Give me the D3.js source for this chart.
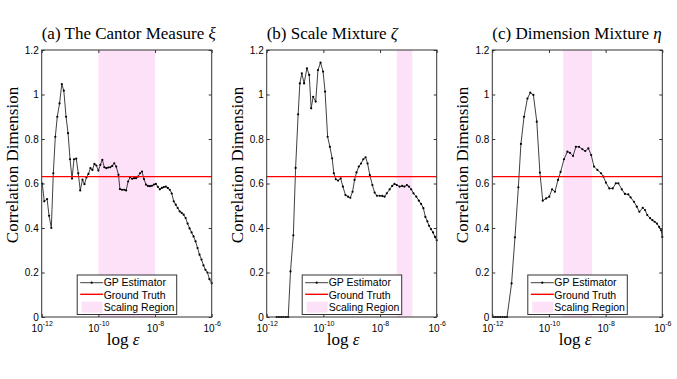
<!DOCTYPE html>
<html><head><meta charset="utf-8">
<script src="https://cdn.jsdelivr.net/npm/d3@7"></script>
<style>body{margin:0;background:#fff;} svg{display:block;}</style>
</head><body>
<svg id="chart" width="677" height="379"></svg>
<script>
// ---------- data ----------
const yTicks = [0, 0.2, 0.4, 0.6, 0.8, 1, 1.2];
const yTickLabels = ["0", "0.2", "0.4", "0.6", "0.8", "1", "1.2"];
const xTicks = [1e-12, 1e-10, 1e-8, 1e-6];
const xTickExponents = ["-12", "-10", "-8", "-6"];
const groundTruth = 0.6309;
const legendLabels = ["GP Estimator", "Ground Truth", "Scaling Region"];
const panelTitles = ["(a) The Cantor Measure ", "(b) Scale Mixture ", "(c) Dimension Mixture "];
const panelSymbols = ["ξ", "ζ", "η"];

// (a) The Cantor Measure
const cantorLogEps = [-11.98,-11.91,-11.81,-11.74,-11.66,-11.59,-11.52,-11.45,-11.37,-11.29,
  -11.22,-11.14,-11.07,-11.00,-10.93,-10.86,-10.78,-10.71,-10.64,-10.56,
  -10.49,-10.42,-10.35,-10.28,-10.21,-10.14,-10.07,-10.00,-9.93,-9.86,
  -9.79,-9.72,-9.65,-9.58,-9.51,-9.44,-9.37,-9.29,-9.24,-9.17,
  -9.09,-9.02,-8.95,-8.88,-8.81,-8.74,-8.67,-8.60,-8.53,-8.46,
  -8.39,-8.32,-8.25,-8.18,-8.11,-8.04,-7.97,-7.90,-7.83,-7.76,
  -7.69,-7.62,-7.55,-7.48,-7.41,-7.34,-7.27,-7.20,-7.13,-7.06,
  -6.99,-6.92,-6.85,-6.78,-6.71,-6.64,-6.57,-6.50,-6.43,-6.36,
  -6.29,-6.22,-6.15,-6.08,-6.00];
const cantorDim = [0.60,0.52,0.53,0.455,0.40,0.646,0.81,0.90,0.96,1.047,
  1.017,0.90,0.826,0.709,0.622,0.709,0.712,0.646,0.569,0.617,
  0.597,0.627,0.643,0.669,0.661,0.688,0.681,0.658,0.684,0.706,
  0.673,0.669,0.672,0.673,0.679,0.691,0.676,0.639,0.575,0.572,
  0.572,0.569,0.609,0.628,0.621,0.624,0.624,0.631,0.646,0.654,
  0.62,0.595,0.589,0.588,0.59,0.595,0.598,0.585,0.574,0.58,
  0.584,0.586,0.58,0.572,0.555,0.52,0.505,0.49,0.475,0.468,
  0.46,0.445,0.42,0.398,0.38,0.362,0.34,0.31,0.28,0.258,
  0.232,0.212,0.2,0.17,0.152];
const cantorScaling = [1e-10, 1e-8];

// (b) Scale Mixture
const scaleLogEps = [-11.65,-11.57,-11.49,-11.41,-11.32,-11.24,-11.16,-11.06,-10.98,-10.89,
  -10.83,-10.76,-10.68,-10.58,-10.50,-10.43,-10.36,-10.27,-10.19,-10.10,
  -10.01,-9.94,-9.85,-9.77,-9.69,-9.63,-9.56,-9.48,-9.39,-9.31,
  -9.22,-9.13,-9.05,-8.97,-8.90,-8.83,-8.75,-8.67,-8.59,-8.51,
  -8.44,-8.36,-8.27,-8.19,-8.11,-8.01,-7.92,-7.84,-7.76,-7.66,
  -7.57,-7.49,-7.41,-7.31,-7.22,-7.14,-7.05,-6.98,-6.90,-6.82,
  -6.72,-6.63,-6.55,-6.47,-6.40,-6.33,-6.27,-6.20,-6.13,-6.06,
  -6.00];
const scaleDim = [0,0,0,0,0,0,0.205,0.367,0.67,0.911,
  1.05,1.095,1.05,1.118,1.088,0.938,0.99,0.968,1.11,1.143,
  1.103,1.013,0.81,0.765,0.713,0.646,0.619,0.613,0.623,0.586,
  0.548,0.541,0.536,0.563,0.616,0.65,0.676,0.69,0.709,0.718,
  0.69,0.638,0.593,0.559,0.545,0.545,0.544,0.541,0.556,0.574,
  0.589,0.598,0.593,0.586,0.589,0.586,0.593,0.586,0.574,0.556,
  0.541,0.523,0.508,0.489,0.45,0.43,0.41,0.395,0.38,0.36,
  0.345];
const scaleScaling = [3.9e-8, 1.38e-7];

// (c) Dimension Mixture
const dimLogEps = [-11.96,-11.88,-11.80,-11.72,-11.64,-11.56,-11.48,-11.32,-11.20,-11.08,
  -10.99,-10.88,-10.76,-10.66,-10.55,-10.43,-10.32,-10.22,-10.10,-9.99,
  -9.89,-9.79,-9.68,-9.59,-9.47,-9.35,-9.26,-9.15,-9.05,-8.94,
  -8.82,-8.72,-8.61,-8.51,-8.41,-8.29,-8.16,-8.08,-7.99,-7.87,
  -7.75,-7.64,-7.55,-7.43,-7.32,-7.20,-7.12,-7.00,-6.90,-6.81,
  -6.69,-6.61,-6.53,-6.43,-6.35,-6.27,-6.19,-6.11,-6.04,-6.00];
const dimDim = [0,0,0,0,0,0,0,0.151,0.358,0.583,
  0.778,0.90,0.982,1.008,0.998,0.878,0.649,0.523,0.533,0.541,
  0.574,0.563,0.616,0.652,0.709,0.743,0.738,0.724,0.765,0.765,
  0.754,0.746,0.758,0.728,0.676,0.661,0.646,0.631,0.604,0.578,
  0.578,0.601,0.601,0.574,0.553,0.551,0.538,0.518,0.496,0.473,
  0.491,0.481,0.458,0.444,0.435,0.428,0.42,0.405,0.39,0.36];
const dimScaling = [3.2e-10, 3.3e-9];

// ---------- layout ----------
const svg = d3.select("#chart");
const plotTop = 50, plotBottom = 317, plotWidth = 170;
const panels = [
  {left: 41.7, logEps: cantorLogEps, dim: cantorDim, scaling: cantorScaling, xlabel: 123, ylabel: 18},
  {left: 266.7, logEps: scaleLogEps, dim: scaleDim, scaling: scaleScaling, xlabel: 343, ylabel: 243},
  {left: 492.3, logEps: dimLogEps, dim: dimDim, scaling: dimScaling, xlabel: 575, ylabel: 468}
];
const serif = "'Liberation Serif','Times New Roman',serif";
const sans = "'Liberation Sans',Arial,sans-serif";

panels.forEach((p, k) => {
  const x = d3.scaleLog().domain([1e-12, 1e-6]).range([p.left, p.left + plotWidth]);
  const y = d3.scaleLinear().domain([0, 1.2]).range([plotBottom, plotTop]);
  const g = svg.append("g");

  // scaling region
  g.append("rect")
    .attr("x", x(p.scaling[0])).attr("y", plotTop)
    .attr("width", x(p.scaling[1]) - x(p.scaling[0]))
    .attr("height", plotBottom - plotTop)
    .attr("fill", "#fde1f9");

  // GP estimator
  const pts = p.logEps.map((v, i) => [Math.pow(10, v), p.dim[i]]);
  g.append("path").datum(pts)
    .attr("fill", "none").attr("stroke", "#2a2a2a").attr("stroke-width", 0.9)
    .attr("d", d3.line().x(d => x(d[0])).y(d => y(d[1])));
  g.selectAll("circle.m").data(pts).enter().append("circle")
    .attr("cx", d => x(d[0])).attr("cy", d => y(d[1])).attr("r", 1.1).attr("fill", "#000");

  // ground truth
  g.append("line")
    .attr("x1", p.left).attr("x2", p.left + plotWidth)
    .attr("y1", y(groundTruth)).attr("y2", y(groundTruth))
    .attr("stroke", "#ff0000").attr("stroke-width", 1.4);

  // axes
  const ax = (sel) => { sel.select(".domain").remove(); sel.selectAll("line").attr("stroke", "#333"); };
  g.append("g").attr("transform", `translate(${p.left},0)`)
    .call(d3.axisLeft(y).tickValues(yTicks).tickSize(-3).tickPadding(3)
      .tickFormat((d, i) => yTickLabels[i]))
    .call(ax)
    .selectAll("text").attr("font-family", sans).attr("font-size", "10px").attr("fill", "#000");
  g.append("g").attr("transform", `translate(${p.left + plotWidth},0)`)
    .call(d3.axisRight(y).tickValues(yTicks).tickSize(-3).tickFormat(""))
    .call(ax);
  g.append("g").attr("transform", `translate(0,${plotTop})`)
    .call(d3.axisTop(x).tickValues(xTicks).tickSize(-3).tickFormat(""))
    .call(ax);
  const bx = g.append("g").attr("transform", `translate(0,${plotBottom})`)
    .call(d3.axisBottom(x).tickValues(xTicks).tickSize(-3).tickPadding(8).tickFormat(""))
    .call(ax);
  bx.selectAll(".tick text").each(function (d, i) {
    const t = d3.select(this).attr("font-family", sans).attr("font-size", "10px").attr("fill", "#000");
    t.append("tspan").text("10");
    t.append("tspan").attr("dy", "-6").attr("font-size", "7px").text(xTickExponents[i]);
  });

  // frame
  g.append("rect").attr("x", p.left).attr("y", plotTop)
    .attr("width", plotWidth).attr("height", plotBottom - plotTop)
    .attr("fill", "none").attr("stroke", "#333").attr("stroke-width", 1);

  // legend
  const lx = p.left + 35.5, ly = 275;
  const lg = g.append("g");
  lg.append("rect").attr("x", lx).attr("y", ly).attr("width", 99.5).attr("height", 39.5)
    .attr("fill", "#fff").attr("stroke", "#333").attr("stroke-width", 1);
  lg.append("line").attr("x1", lx + 3).attr("x2", lx + 26).attr("y1", ly + 7.7).attr("y2", ly + 7.7)
    .attr("stroke", "#2a2a2a").attr("stroke-width", 0.9);
  lg.append("circle").attr("cx", lx + 14.5).attr("cy", ly + 7.7).attr("r", 1.1).attr("fill", "#000");
  lg.append("line").attr("x1", lx + 3).attr("x2", lx + 26).attr("y1", ly + 19.3).attr("y2", ly + 19.3)
    .attr("stroke", "#ff0000").attr("stroke-width", 1.4);
  lg.append("rect").attr("x", lx + 4.5).attr("y", ly + 26.7).attr("width", 21).attr("height", 11)
    .attr("fill", "#fde1f9");
  [11, 23.5, 36].forEach((dy, i) => {
    lg.append("text").attr("x", lx + 26.5).attr("y", ly + dy)
      .attr("font-family", sans).attr("font-size", "10.5px").attr("fill", "#000")
      .text(legendLabels[i]);
  });

  // title
  const tt = svg.append("text").attr("x", p.left).attr("y", 39)
    .attr("font-family", serif).attr("font-size", "17px").attr("fill", "#000");
  tt.append("tspan").text(panelTitles[k]);
  tt.append("tspan").attr("font-style", "italic").text(panelSymbols[k]);

  // x label
  const xl = svg.append("text").attr("x", p.xlabel).attr("y", 345).attr("text-anchor", "middle")
    .attr("font-family", serif).attr("font-size", "17px").attr("fill", "#000");
  xl.append("tspan").text("log ");
  xl.append("tspan").attr("font-style", "italic").text("ε");

  // y label
  svg.append("text").attr("transform", `translate(${p.ylabel},165) rotate(-90)`)
    .attr("text-anchor", "middle").attr("font-family", serif).attr("font-size", "17px")
    .attr("fill", "#000").text("Correlation Dimension");
});
</script>
</body></html>
